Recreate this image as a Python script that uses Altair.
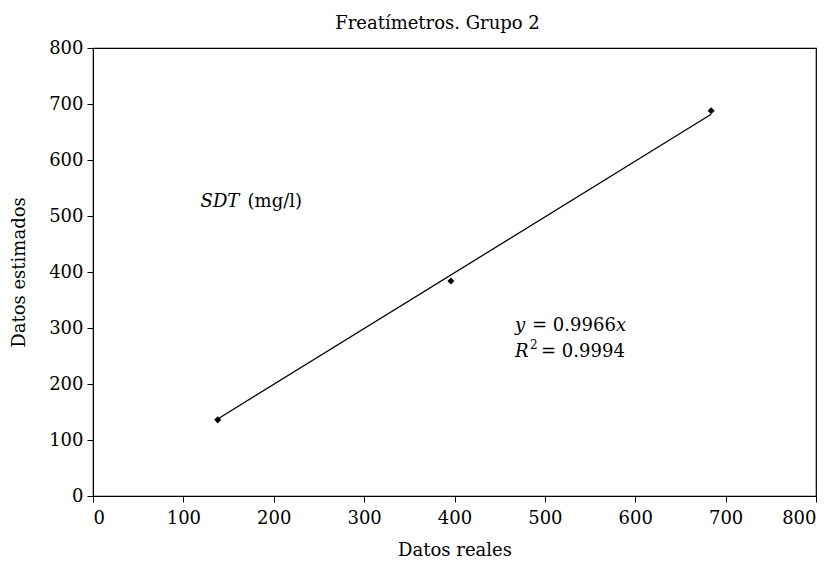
import altair as alt
import pandas as pd

# Data
real = [138, 396, 684]
estimated = [136, 384, 688]
slope = 0.9966
line_x = [138, 684]
title_text = "Freatímetros. Grupo 2"
x_title = "Datos reales"
y_title = "Datos estimados"

FONT = "DejaVu Serif"
FS = 18

pts = pd.DataFrame({"x": real, "y": estimated})
trend = pd.DataFrame({"x": line_x, "y": [slope * v for v in line_x]})

xs = alt.Scale(domain=[0, 800], nice=False)
ys = alt.Scale(domain=[0, 800], nice=False)

xax = alt.Axis(values=list(range(0, 801, 100)), grid=False, title=x_title, tickSize=6,
               domainColor="black", tickColor="black", labelColor="black", titleColor="black",
               labelFont=FONT, titleFont=FONT, labelFontSize=FS, titleFontSize=FS,
               titleFontWeight="normal", labelPadding=7, titlePadding=14)
yax = alt.Axis(values=list(range(0, 801, 100)), grid=False, title=y_title, tickSize=6,
               domainColor="black", tickColor="black", labelColor="black", titleColor="black",
               labelFont=FONT, titleFont=FONT, labelFontSize=FS, titleFontSize=FS,
               titleFontWeight="normal", labelPadding=4, titlePadding=20)

line = alt.Chart(trend).mark_line(color="black", strokeWidth=1.3).encode(
    x=alt.X("x:Q", scale=xs, axis=xax),
    y=alt.Y("y:Q", scale=ys, axis=yax),
)
points = alt.Chart(pts).mark_point(shape="diamond", filled=True, color="black", size=50, opacity=1).encode(
    x=alt.X("x:Q", scale=xs),
    y=alt.Y("y:Q", scale=ys),
)

# annotations (text pieces with their own style)
ann_x = [119, 119, 467, 467, 467, 467, 467, 467]
ann_y = [516, 516, 295, 295, 295, 248, 248, 248]
ann_t = ["SDT", "(mg/l)", "y", "= 0.9966", "x", "R", "2", "= 0.9994"]
ann_style = ["italic", "normal", "italic", "normal", "italic", "italic", "normal", "normal"]
ann_size = [FS, FS, FS, FS, FS, FS, 12, FS]
ann_dx = [0, 47, 0, 17, 101, 0, 15, 26]
ann_dy = [0, 0, 0, 0, 0, 0, -8, 0]


def txt(i):
    r = pd.DataFrame({"x": [ann_x[i]], "y": [ann_y[i]], "t": [ann_t[i]]})
    return alt.Chart(r).mark_text(
        align="left", baseline="alphabetic", font=FONT, fontSize=ann_size[i], color="black",
        fontStyle=ann_style[i], dx=ann_dx[i], dy=ann_dy[i]
    ).encode(x=alt.X("x:Q", scale=xs), y=alt.Y("y:Q", scale=ys), text="t:N")


texts = [txt(i) for i in range(len(ann_t))]

chart = alt.layer(line, points, *texts).properties(
    width=723, height=448,
    title=alt.TitleParams(title_text, font=FONT, fontSize=FS, fontWeight="normal",
                          color="black", anchor="middle", offset=6, dx=-17),
    autosize=alt.AutoSizeParams(type="none"),
    padding={"left": 85, "top": 40, "right": 10, "bottom": 66},
).configure_view(stroke="black", strokeWidth=1.2)

chart.save("out.html", embed_options={"renderer": "svg", "actions": False})
